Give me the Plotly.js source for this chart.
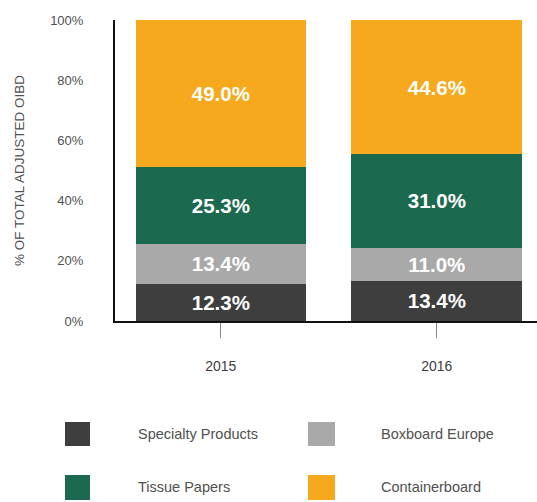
<!DOCTYPE html>
<html>
<head>
<meta charset="utf-8">
<script src="https://cdn.plot.ly/plotly-3.0.1.min.js"></script>
<style>
  html, body { margin: 0; padding: 0; background: #fff; }
  #chart { width: 537px; height: 502px; }
</style>
</head>
<body>
<div id="chart"></div>
<script>
// Share of total adjusted OIBD by segment
const years = ['2015', '2016'];
const segments = ['Specialty Products', 'Boxboard Europe', 'Tissue Papers', 'Containerboard'];
const specialtyProducts = [12.3, 13.4];
const boxboardEurope = [13.4, 11.0];
const tissuePapers = [25.3, 31.0];
const containerboard = [49.0, 44.6];
const yTicks = [0, 20, 40, 60, 80, 100];

const seriesValues = [specialtyProducts, boxboardEurope, tissuePapers, containerboard];
const colors = ['#3e3e3e', '#a9a9a9', '#1b6a50', '#f6a91c'];
const FONT = 'Liberation Sans, Arial, sans-serif';

const traces = segments.map((name, i) => ({
  type: 'bar',
  name: name,
  x: years,
  y: seriesValues[i],
  marker: { color: colors[i], line: { width: 0 } },
  texttemplate: '%{y:.1f}%',
  textposition: 'inside',
  insidetextanchor: 'middle',
  textangle: 0,
  constraintext: 'none',
  textfont: { family: FONT, size: 20.5, color: '#ffffff', weight: 'bold' },
  hoverinfo: 'skip',
  showlegend: false
}));

// Legend drawn as swatches and labels below the plot (paper coordinates)
const W = 422, H = 301; // plot area size in px
const px = v => (v - 115) / W;
const py = v => (321 - v) / H;
const legendCells = [
  { x0: 65, x1: 90, y0: 422, y1: 446, tx: 136 },
  { x0: 308, x1: 335, y0: 422, y1: 446, tx: 379 },
  { x0: 65, x1: 90, y0: 475, y1: 500, tx: 136 },
  { x0: 308, x1: 335, y0: 475, y1: 500, tx: 379 }
];
const shapes = [];
const annotations = [];
legendCells.forEach((c, i) => {
  shapes.push({
    type: 'rect', xref: 'paper', yref: 'paper',
    x0: px(c.x0), x1: px(c.x1), y0: py(c.y1), y1: py(c.y0),
    fillcolor: colors[i], line: { width: 0 }
  });
  annotations.push({
    xref: 'paper', yref: 'paper', x: px(c.tx), y: py((c.y0 + c.y1) / 2),
    xanchor: 'left', yanchor: 'middle', showarrow: false,
    text: segments[i],
    font: { family: FONT, size: 14.5, color: '#505050' }
  });
});

const layout = {
  width: 537,
  height: 502,
  margin: { l: 115, r: 0, t: 20, b: 181 },
  paper_bgcolor: '#ffffff',
  plot_bgcolor: '#ffffff',
  barmode: 'stack',
  bargap: 0.21,
  showlegend: false,
  xaxis: {
    type: 'category',
    range: [-0.49, 1.464],
    showline: true,
    linecolor: '#111111',
    linewidth: 2,
    ticks: 'outside',
    ticklen: 15,
    tickwidth: 1,
    tickcolor: '#888888',
    ticklabelstandoff: 16,
    tickfont: { family: FONT, size: 14, color: '#404040' },
    showgrid: false,
    zeroline: false,
    fixedrange: true
  },
  yaxis: {
    range: [0, 100],
    tickvals: yTicks,
    ticktext: yTicks.map(v => v + '%'),
    showline: true,
    linecolor: '#111111',
    linewidth: 2,
    ticks: '',
    ticklabelstandoff: 27,
    tickfont: { family: FONT, size: 13, color: '#505050' },
    showgrid: false,
    zeroline: false,
    fixedrange: true,
    title: {
      text: '% OF TOTAL ADJUSTED OIBD',
      standoff: 22,
      font: { family: FONT, size: 13.5, color: '#505050' }
    }
  },
  shapes: shapes,
  annotations: annotations
};

Plotly.newPlot('chart', traces, layout, { displayModeBar: false, staticPlot: true });
</script>
</body>
</html>
